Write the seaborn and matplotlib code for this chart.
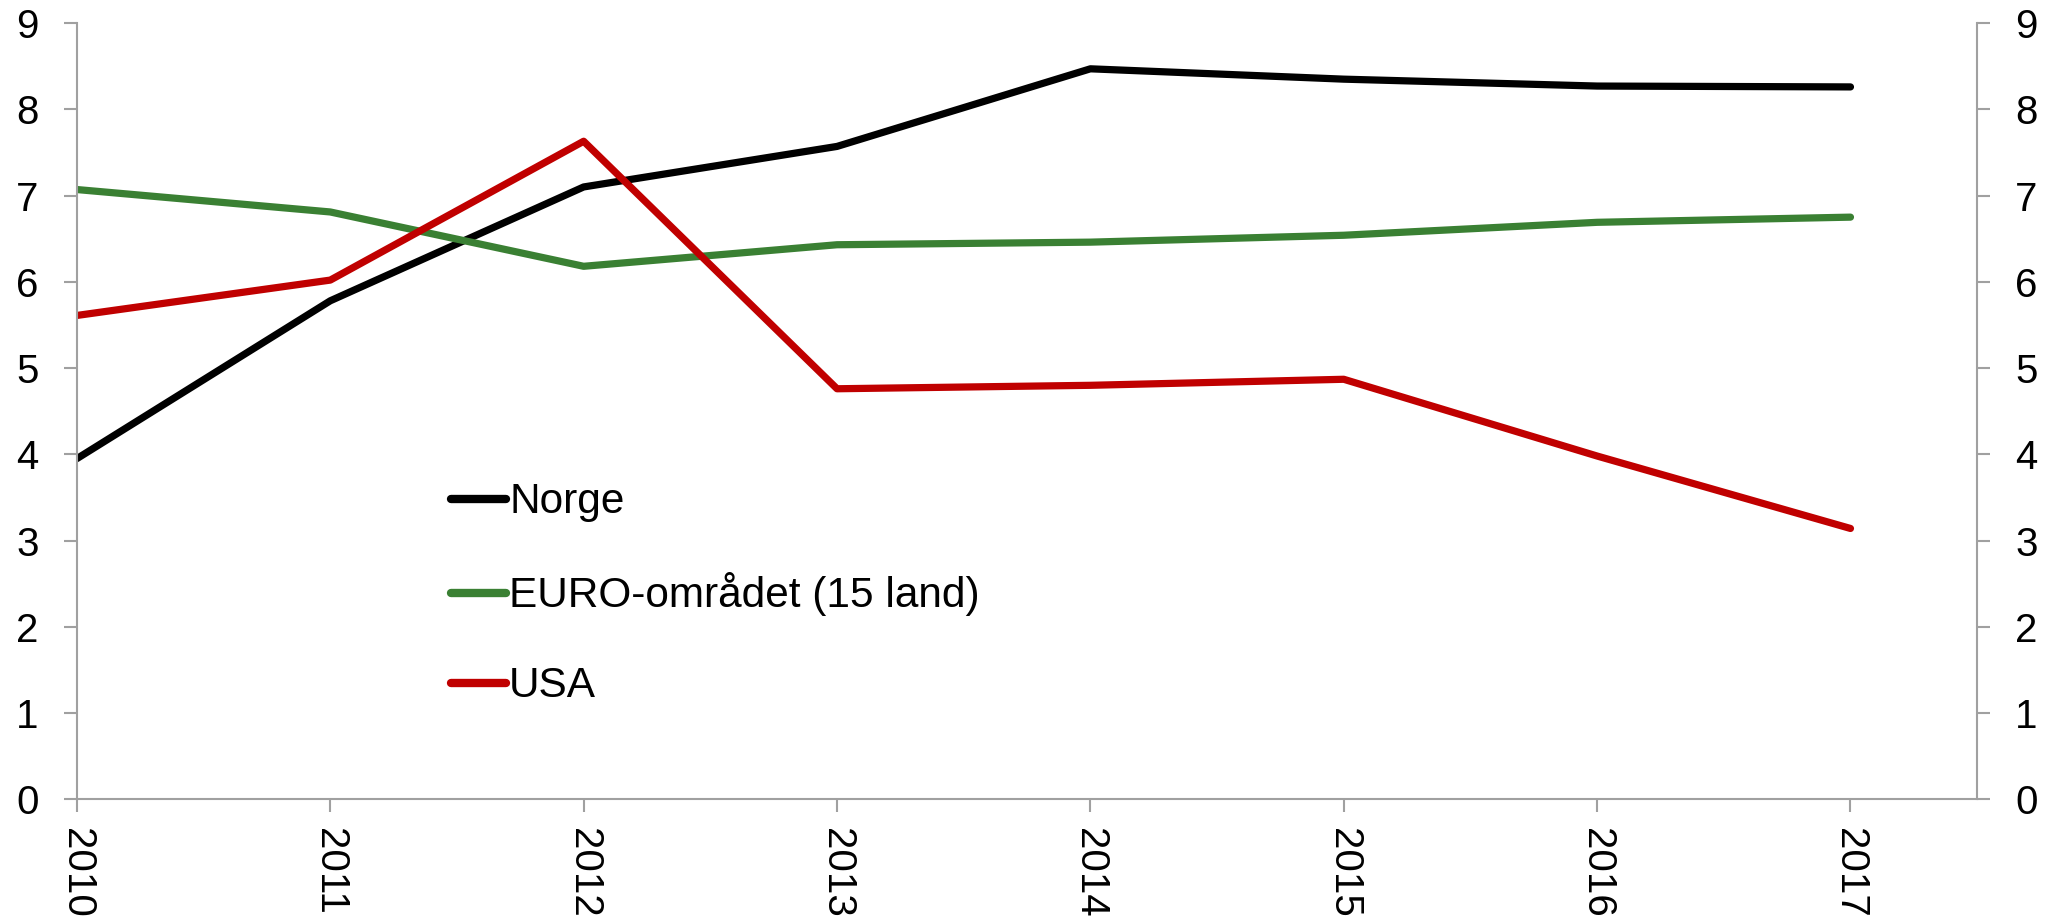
import pandas as pd
import seaborn as sns
import matplotlib.pyplot as plt

# Values
years = [2010, 2011, 2012, 2013, 2014, 2015, 2016, 2017]
norge = [3.95, 5.78, 7.10, 7.57, 8.47, 8.35, 8.27, 8.26]
euro = [7.07, 6.81, 6.18, 6.43, 6.46, 6.54, 6.69, 6.75]
usa = [5.61, 6.02, 7.63, 4.76, 4.80, 4.87, 3.98, 3.14]
series_names = ['Norge', 'EURO-området (15 land)', 'USA']
colors = ['#000000', '#3A8033', '#C00000']

df = pd.DataFrame({
    'year': years * 3,
    'value': norge + euro + usa,
    'series': [s for s in series_names for _ in years],
})

sns.set_style('white')
plt.rcParams['font.family'] = ['Liberation Sans', 'DejaVu Sans']
plt.rcParams['text.color'] = 'black'
plt.rcParams['xtick.color'] = 'black'
plt.rcParams['ytick.color'] = 'black'

fig, ax = plt.subplots(figsize=(20.51, 9.24), dpi=100)
fig.subplots_adjust(left=0.0375, right=0.964, top=0.975, bottom=0.135)

sns.lineplot(data=df, x='year', y='value', hue='series', palette=colors,
             linewidth=5.2, ax=ax, solid_capstyle='round')

ax.set_xlim(2010, 2017.5)
ax.set_ylim(0, 9)
ax.set_yticks(range(0, 10))
ax.set_xticks(years)
ax.set_xticklabels([str(y) for y in years], rotation=-90)
ax.set_xlabel('')
ax.set_ylabel('')

# grey axis lines, no top spine
grey = '#A0A0A0'
for side in ['left', 'right', 'bottom']:
    ax.spines[side].set_color(grey)
    ax.spines[side].set_linewidth(1.5)
ax.spines['top'].set_visible(False)

ax.tick_params(axis='both', which='major', direction='out', length=9.5,
               width=1.5, color=grey, labelsize=29, labelcolor='black')
ax.tick_params(axis='y', left=True, right=True, labelleft=True,
               labelright=True, pad=18)
ax.tick_params(axis='x', bottom=True, pad=11)

leg = ax.legend(loc='upper left', bbox_to_anchor=(0.188, 0.43), frameon=False,
                fontsize=30.5, handlelength=1.3, handletextpad=0.07,
                labelspacing=1.18, borderaxespad=0)
for line in leg.get_lines():
    line.set_linewidth(6)
    line.set_solid_capstyle('round')

plt.savefig('out.png', dpi=100)
